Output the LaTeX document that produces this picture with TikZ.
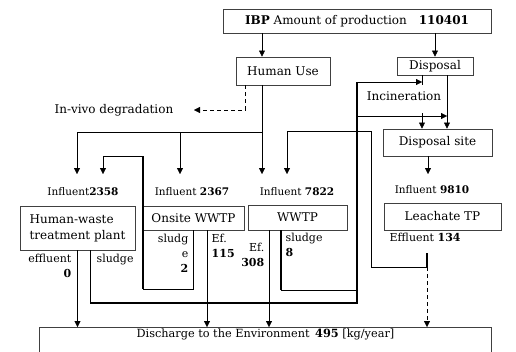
\documentclass[tikz,border=0pt]{standalone}
\usepackage{fontspec}
\setmainfont{DejaVu Serif}
\usetikzlibrary{arrows.meta,positioning}

\begin{document}
\begin{tikzpicture}[x=1pt, y=-1pt, >={Triangle[width=6pt,length=6pt]},
  unit/.style={draw=black!75,line width=0.9pt,inner sep=1pt,
               font=\fontsize{12}{16}\selectfont,align=center},
  lbl/.style={inner sep=0.5pt,font=\fontsize{11}{15}\selectfont},
  inlbl/.style={inner sep=0.5pt,font=\fontsize{10.5}{14}\selectfont},
  heavy/.style={line width=1.8pt},
  leak/.style={dash pattern=on 4pt off 3pt}]
  \useasboundingbox (0,0) rectangle (516,351);
  % boxes
  \node[unit,minimum width=268pt,minimum height=24pt] (ibp)   at (357,21)    {\textbf{IBP} Amount of production\quad\textbf{110401}};
  \node[unit,minimum width=94pt,minimum height=28pt]  (human) at (283,71)    {Human Use};
  \node[unit,minimum width=76pt,minimum height=18pt]  (disp)  at (435,66)    {Disposal};
  \node[unit,minimum width=109pt,minimum height=27pt] (dsite) at (437.5,142.5) {Disposal site};
  \node[unit,minimum width=115pt,minimum height=44pt,align=left] (hwtp) at (77.5,228) {Human-waste\\treatment plant};
  \node[unit,minimum width=101pt,minimum height=24pt] (onsite) at (193.5,218) {Onsite WWTP};
  \node[unit,minimum width=99pt,minimum height=25pt]  (wwtp)  at (297.5,217.5) {WWTP};
  \node[unit,minimum width=117pt,minimum height=27pt] (leach) at (442.5,216.5) {Leachate TP};
  \node[unit,minimum width=452pt,minimum height=44pt,anchor=north west] (env) at (39,327) {};
  \node[lbl,font=\fontsize{11.3}{15}\selectfont,below=1pt of env.north] (envtxt) {Discharge to the Environment\enspace\textbf{495} [kg/year]};
  % junctions
  \coordinate (split) at (262,132);
  \coordinate (dv) at (245,110);
  \coordinate (vivo) at (194,110);
  \coordinate (tipHw) at (77,174);
  \coordinate (tipLoop) at (103,174);
  \coordinate (tipOn) at (180,174);
  \coordinate (tipWw) at (262,174);
  \coordinate (tipLr) at (287,174);
  \coordinate (tipLe) at (428,174);
  \coordinate (loopTop) at (143,156);
  \coordinate (loopBot) at (143,289);
  \coordinate (riser) at (357,303);
  \coordinate (wwSl) at (281,290);
  \coordinate (efOn) at (207,0);
  \coordinate (efWw) at (269,0);
  \coordinate (incIn) at (422,82);
  \coordinate (incOut) at (422,113);
  \coordinate (ashIn) at (447,116);
  \coordinate (leachOut) at (427,253);
  \coordinate (leachSplit) at (427,267);
  \coordinate (back) at (371,131);
  % labels
  \node[lbl,font=\fontsize{12}{15}\selectfont,left=20pt of vivo] (invivo) {In-vivo degradation};
  \node[lbl,font=\fontsize{12}{15}\selectfont] (incin) at (404,96) {Incineration};
  \node[inlbl] (inf1) at (83,192)  {Influent\textbf{2358}};
  \node[inlbl] (inf2) at (192,192) {Influent \textbf{2367}};
  \node[inlbl] (inf3) at (297,192) {Influent \textbf{7822}};
  \node[inlbl] (inf4) at (432,190) {Influent \textbf{9810}};
  \node[lbl,anchor=west] (eff4) at (389,237) {Effluent \textbf{134}};
  \node[lbl,anchor=north east,align=right] (hweff) at (72,253) {effluent\\\textbf{0}};
  \node[lbl,anchor=north west] (hwsl) at (96,253) {sludge};
  \node[lbl,anchor=north east,align=right] (onsl) at (189,233) {sludg\\e\\\textbf{2}};
  \node[lbl,anchor=north west,align=left] (oneff) at (211,233) {Ef.\\\textbf{115}};
  \node[lbl,anchor=north east,align=right] (wweff) at (265,242) {Ef.\\\textbf{308}};
  \node[lbl,anchor=north west,align=left] (wwsl) at (285,232) {sludge\\\textbf{8}};
  % production
  \draw[->] (ibp.south -| split) -- (human.north -| split);
  \draw[->] (ibp.south -| disp.north) -- (disp.north);
  \draw[->,leak] (human.south -| dv) -- (dv) -- (vivo);
  % human use to treatment
  \draw[->] (human.south -| split) -- (tipWw);
  \draw[->] (split) -| (tipHw);
  \draw[->] (split -| tipOn) -- (tipOn);
  \draw (onsite.south) |- (loopBot);
  \draw[heavy] (loopBot) -- (loopTop);
  \draw[->] (loopTop) -| (tipLoop);
  % sludge to riser
  \draw[heavy] ([xshift=13pt]hwtp.south) |- (riser) -- (riser |- incIn);
  \draw[heavy] (wwtp.south -| wwSl) -- (wwSl);
  \draw (wwSl) -- (wwSl -| riser);
  \draw[->] (riser |- incIn) -- (incIn);
  \draw[->] (riser |- ashIn) -- (ashIn);
  % disposal
  \draw (disp.south -| incIn) -- ++(0,10);
  \draw[->] (incOut) -- (dsite.north -| incOut);
  \draw[->] (disp.south -| ashIn) -- (dsite.north -| ashIn);
  \draw[->] (dsite.south -| tipLe) -- (tipLe);
  % leachate
  \draw[heavy] (leachOut) -- (leachSplit);
  \draw[->,leak] (leachSplit) -- (leachSplit |- env.north);
  \draw[->] (leachSplit) -| (back) -| (tipLr);
  % effluents
  \draw[->] (hwtp.south) -- (hwtp.south |- env.north);
  \draw[->] (onsite.south -| efOn) -- (efOn |- env.north);
  \draw[->] (wwtp.south -| efWw) -- (efWw |- env.north);
\end{tikzpicture}
\end{document}
